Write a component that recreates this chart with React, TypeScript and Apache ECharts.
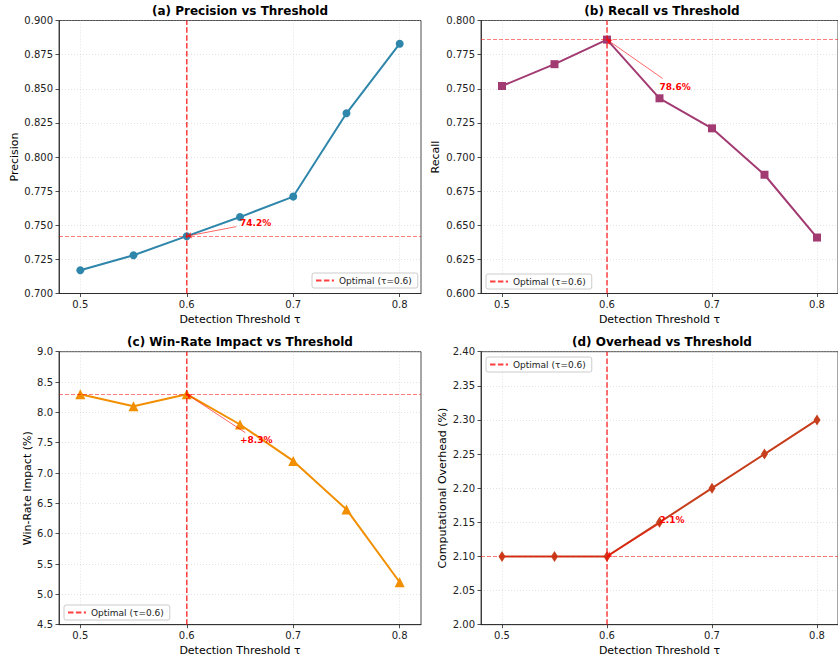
import React, { useEffect, useRef } from "react";
import * as echarts from "echarts";

const thresholds = [0.5, 0.55, 0.6, 0.65, 0.7, 0.75, 0.8];
const precision = [0.717, 0.728, 0.742, 0.756, 0.771, 0.832, 0.883];
const recall = [0.752, 0.768, 0.786, 0.743, 0.721, 0.687, 0.641];
const winRate = [8.3, 8.1, 8.3, 7.8, 7.2, 6.4, 5.2];
const overhead = [2.1, 2.1, 2.1, 2.15, 2.2, 2.25, 2.3];
const xTicks = [0.5, 0.6, 0.7, 0.8];
const xRange = [0.48, 0.82];
const optimalThreshold = 0.6;
const legendName = "Optimal (τ=0.6)";
const titles = [
  "(a) Precision vs Threshold",
  "(b) Recall vs Threshold",
  "(c) Win-Rate Impact vs Threshold",
  "(d) Overhead vs Threshold",
];
const yNames = ["Precision", "Recall", "Win-Rate Impact (%)", "Computational Overhead (%)"];
const annotationTexts = ["74.2%", "78.6%", "+8.3%", "2.1%"];
// annotation text anchor and arrow start (data coords)
const annotationText = [
  [0.65, 0.7515],
  [0.65, 0.7515],
  [0.65, 7.545],
  [0.65, 2.154],
];
const annotationArrow = [
  [0.6465, 0.749],
  [0.653, 0.7575],
  [0.655, 7.665],
  [0.651, 2.149],
];

const FONT = "DejaVu Sans";

const panels = [
  { values: precision, color: "#2E86AB", symbol: "circle", symbolSize: 8, yMin: 0.7, yMax: 0.9, yInterval: 0.025, dec: 3,
    grid: { left: 59, top: 20.5, width: 362, height: 273 }, nameGap: 39, legend: { left: 312, top: 273 }, titleXY: [240, 10.5] },
  { values: recall, color: "#A23B72", symbol: "rect", symbolSize: 8, yMin: 0.6, yMax: 0.8, yInterval: 0.025, dec: 3,
    grid: { left: 481, top: 20.5, width: 362, height: 273 }, nameGap: 40, legend: { left: 486, top: 274 }, titleXY: [662, 10.5] },
  { values: winRate, color: "#F18F01", symbol: "triangle", symbolSize: 10, yMin: 4.5, yMax: 9.0, yInterval: 0.5, dec: 1,
    grid: { left: 59, top: 351.7, width: 362, height: 273 }, nameGap: 26, legend: { left: 64, top: 605 }, titleXY: [240, 341.7] },
  { values: overhead, color: "#C73E1D", symbol: "diamond", symbolSize: [7, 11], yMin: 2.0, yMax: 2.4, yInterval: 0.05, dec: 2,
    grid: { left: 481, top: 351.7, width: 362, height: 273 }, nameGap: 33, legend: { left: 486, top: 357 }, titleXY: [662, 341.7] },
];

export default function App() {
  const ref = useRef<HTMLDivElement>(null);
  useEffect(() => {
    document.body.style.margin = "0";
    const chart = echarts.init(ref.current!, null, { renderer: "svg" });
    const optIdx = thresholds.indexOf(optimalThreshold);
    const hLineStyle = { color: "rgba(255,0,0,0.5)", width: 1, type: [4, 2], opacity: 1 };
    const arrowStyle = { color: "rgba(255,0,0,0.75)", width: 0.8, type: "solid", opacity: 1 };
    const grids = panels.map((p) => ({
      ...p.grid,
      show: true,
      borderColor: "#222",
      borderWidth: 0.8,
      backgroundColor: "transparent",
    }));
    const xAxes = panels.map((p, i) => ({
      type: "value",
      gridIndex: i,
      min: xRange[0],
      max: xRange[1],
      name: "Detection Threshold τ",
      nameLocation: "middle",
      nameGap: 20,
      nameTextStyle: { fontFamily: FONT, fontSize: 11, color: "#000", verticalAlign: "top" },
      axisLine: { show: true, lineStyle: { color: "#222", width: 0.8 } },
      axisTick: { show: true, length: 3.5, customValues: xTicks, lineStyle: { color: "#222", width: 0.8 } },
      axisLabel: {
        customValues: xTicks,
        fontFamily: FONT,
        fontSize: 10,
        color: "#222",
        margin: 6,
        formatter: (v: number) => v.toFixed(1),
      },
      splitLine: { show: true, lineStyle: { color: "rgba(176,176,176,0.45)", type: [1, 2], width: 0.8 } },
    }));
    const yAxes = panels.map((p, i) => ({
      type: "value",
      gridIndex: i,
      min: p.yMin,
      max: p.yMax,
      interval: p.yInterval,
      name: yNames[i],
      nameLocation: "middle",
      nameGap: p.nameGap,
      nameRotate: 90,
      nameTextStyle: { fontFamily: FONT, fontSize: 11, color: "#000" },
      axisLine: { show: true, lineStyle: { color: "#222", width: 0.8 } },
      axisTick: { show: true, length: 3.5, lineStyle: { color: "#222", width: 0.8 } },
      axisLabel: {
        fontFamily: FONT,
        fontSize: 10,
        color: "#222",
        margin: 6,
        formatter: (v: number) => v.toFixed(p.dec),
      },
      splitLine: { show: true, lineStyle: { color: "rgba(176,176,176,0.45)", type: [1, 2], width: 0.8 } },
    }));
    const series: any[] = [];
    panels.forEach((p, i) => {
      const optVal = p.values[optIdx];
      series.push({
        type: "line",
        name: titles[i],
        xAxisIndex: i,
        yAxisIndex: i,
        data: thresholds.map((t, j) => [t, p.values[j]]),
        symbol: p.symbol,
        symbolSize: p.symbolSize,
        lineStyle: { color: p.color, width: 2 },
        itemStyle: { color: p.color, opacity: 1 },
        z: 3,
        silent: true,
        markLine: {
          silent: true,
          precision: 5,
          symbol: ["none", "none"],
          label: { show: false },
          emphasis: { disabled: true },
          data: [
            [
              { coord: [xRange[0], optVal], symbol: "none", lineStyle: hLineStyle },
              { coord: [xRange[1], optVal], symbol: "none", lineStyle: hLineStyle },
            ],
            [
              { coord: annotationArrow[i], symbol: "none", lineStyle: arrowStyle },
              { coord: [optimalThreshold, optVal], symbol: "arrow", symbolSize: 5, lineStyle: arrowStyle },
            ],
          ],
        },
        markPoint: {
          silent: true,
          data: [
            {
              coord: annotationText[i],
              symbol: "circle",
              symbolSize: 0.1,
              itemStyle: { color: "rgba(0,0,0,0)" },
              label: {
                show: true,
                position: "right",
                distance: 0,
                formatter: annotationTexts[i],
                color: "#FF0000",
                fontFamily: FONT,
                fontWeight: "bold",
                fontSize: 9,
              },
            },
          ],
        },
      });
      series.push({
        type: "line",
        name: legendName,
        xAxisIndex: i,
        yAxisIndex: i,
        data: [
          [optimalThreshold, p.yMin],
          [optimalThreshold, p.yMax],
        ],
        symbol: "none",
        lineStyle: { color: "rgba(255,0,0,0.75)", width: 1.5, type: [5.5, 2.4] },
        itemStyle: { color: "rgba(255,0,0,0.75)" },
        z: 4,
        silent: true,
      });
    });
    const legends = panels.map((p) => ({
      data: [legendName],
      left: p.legend.left,
      top: p.legend.top,
      orient: "vertical",
      itemWidth: 18,
      itemHeight: 8,
      padding: [3, 6, 3, 3],
      backgroundColor: "rgba(255,255,255,0.8)",
      borderColor: "#cccccc",
      borderWidth: 1,
      borderRadius: 2,
      selectedMode: false,
      itemStyle: { opacity: 0, color: "rgba(0,0,0,0)", borderWidth: 0 },
      textStyle: { fontFamily: FONT, fontSize: 9, color: "#222" },
    }));
    const graphics = panels.map((p, i) => ({
      type: "text",
      x: p.titleXY[0],
      y: p.titleXY[1],
      style: {
        text: titles[i],
        fontFamily: FONT,
        fontSize: 12,
        fontWeight: "bold",
        fill: "#000",
        align: "center",
        verticalAlign: "middle",
      },
    }));
    chart.setOption({
      animation: false,
      backgroundColor: "#fff",
      grid: grids,
      xAxis: xAxes,
      yAxis: yAxes,
      series,
      legend: legends,
      graphic: graphics,
    } as any);
    return () => chart.dispose();
  }, []);
  return <div ref={ref} style={{ width: 838, height: 662 }} />;
}
